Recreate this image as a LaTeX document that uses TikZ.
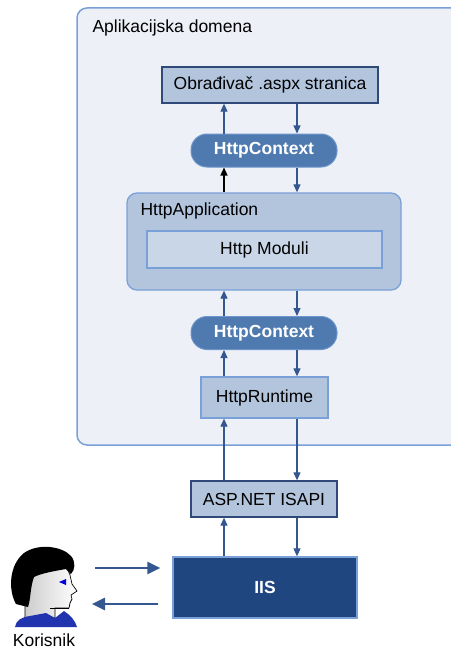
\documentclass[tikz,border=0pt]{standalone}
\usepackage{fontspec}
\setmainfont{Liberation Sans}
\usetikzlibrary{arrows.meta,positioning}

\definecolor{domainfill}{HTML}{EDF0F6}
\definecolor{domainline}{HTML}{7AA0D8}
\definecolor{boxfill}{HTML}{B3C5DD}
\definecolor{darkline}{HTML}{2F4A78}
\definecolor{ctxfill}{HTML}{4F7AAF}
\definecolor{modfill}{HTML}{C9D6E8}
\definecolor{iisfill}{HTML}{1F467E}
\definecolor{flowblue}{HTML}{34578F}
\definecolor{shirtblue}{HTML}{2233B0}

\tikzset{
  txt/.style={font=\fontsize{17.5}{20}\selectfont},
  layerbox/.style={txt, draw=darkline, fill=boxfill, line width=1.3pt, inner sep=0pt},
  lightbox/.style={txt, draw=domainline, fill=boxfill, line width=1.3pt, inner sep=0pt},
  ctxpill/.style={txt, draw=domainline!70!ctxfill, fill=ctxfill, text=white, line width=1pt,
    font=\fontsize{17.5}{20}\selectfont\bfseries, rounded corners=16pt,
    minimum width=146pt, minimum height=33pt, inner sep=0pt},
  flow/.style={-{Triangle[length=8pt,width=7pt]}, draw=flowblue, fill=flowblue, line width=1.1pt},
  userflow/.style={-{Triangle[length=13pt,width=12pt]}, draw=flowblue, fill=flowblue, line width=2.6pt}
}

\begin{document}
\begin{tikzpicture}[x=1pt, y=-1pt]
  \useasboundingbox (0,0) rectangle (450,650);

  % application domain, runs off the right edge
  \draw[domainline, fill=domainfill, line width=1.5pt, rounded corners=10pt]
    (77,8) rectangle (480,445);
  \node[txt, anchor=base west] (domtitle) at (89,33) {Aplikacijska domena};

  % pipeline
  \node[layerbox, minimum width=216pt, minimum height=36pt] (obr) at (270,85) {Obrađivač .aspx stranica};
  \node[ctxpill] (ctxtop) at (264,150.5) {HttpContext};
  \node[lightbox, rounded corners=10pt,
    minimum width=274pt, minimum height=97pt] (app) at (264,241.5) {};
  \node[txt, anchor=base west] (apptitle) at (137,215) {HttpApplication};
  \node[lightbox, fill=modfill, minimum width=235pt, minimum height=37pt] (mod) at (264.5,249.5) {Http Moduli};
  \node[ctxpill] (ctxlow) at (264,333) {HttpContext};
  \node[lightbox, minimum width=127pt, minimum height=41pt] (runtime) at (264.5,397.5) {HttpRuntime};
  \node[layerbox, minimum width=146pt, minimum height=36pt] (isapi) at (264,499) {ASP.NET ISAPI};
  \node[lightbox, fill=iisfill, text=white, font=\fontsize{17.5}{20}\selectfont\bfseries,
    minimum width=184pt, minimum height=61pt] (iis) at (265,587.5) {IIS};

  % request goes up on the left, response comes down on the right
  \coordinate (upx) at (224,0);
  \coordinate (dnx) at (297,0);
  \draw[flow] (ctxtop.north -| upx) -- (obr.south -| upx);
  \draw[flow] (obr.south -| dnx) -- (ctxtop.north -| dnx);
  \draw[flow, draw=black, fill=black] (app.north -| upx) -- (ctxtop.south -| upx);
  \draw[flow] (ctxtop.south -| dnx) -- (app.north -| dnx);
  \draw[flow] (ctxlow.north -| upx) -- (app.south -| upx);
  \draw[flow] (app.south -| dnx) -- (ctxlow.north -| dnx);
  \draw[flow] (runtime.north -| upx) -- (ctxlow.south -| upx);
  \draw[flow] (ctxlow.south -| dnx) -- (runtime.north -| dnx);
  \draw[flow] (isapi.north -| upx) -- (runtime.south -| upx);
  \draw[flow] (runtime.south -| dnx) -- (isapi.north -| dnx);
  \draw[flow] (iis.north -| upx) -- (isapi.south -| upx);
  \draw[flow] (isapi.south -| dnx) -- (iis.north -| dnx);

  % the user: face first, hair laid over it
  \draw[black, line width=0.7pt, left color=black!20, right color=white]
    (25,574) -- (66,566) -- (70,575) -- (72,584) -- (77,591)
    -- (71,595) -- (72,599) -- (70,603) -- (69,608) -- (55,608) -- (55,618)
    -- (25,618) -- cycle;
  \fill[black] (16,604) .. controls (8,590) and (9,565) .. (24,553)
    .. controls (38,543) and (62,546) .. (71,556)
    .. controls (76,562) and (75,570) .. (71,574) -- (66,569)
    .. controls (55,571) and (42,573) .. (34,577)
    .. controls (30,588) and (31,598) .. (28,607) -- cycle;
  \draw[black, line width=0.8pt] (50,608) -- (69,608);
  \fill[blue!85!black] (59,582) -- (66,579) -- (66,585) -- cycle;
  \fill[shirtblue] (15,627) .. controls (16,620) and (22,617) .. (30,616)
    -- (46,613) -- (55,618) -- (64,611) .. controls (70,615) and (75,620) .. (77,627) -- cycle;
  \node[txt, anchor=base] (user) at (44,646) {Korisnik};

  \coordinate (userin) at (95,568);
  \coordinate (userout) at (92,604);
  \draw[userflow] (userin) -- ([xshift=-12pt]iis.west |- userin);
  \draw[userflow] ([xshift=-14pt]iis.west |- userout) -- (userout);
\end{tikzpicture}
\end{document}
